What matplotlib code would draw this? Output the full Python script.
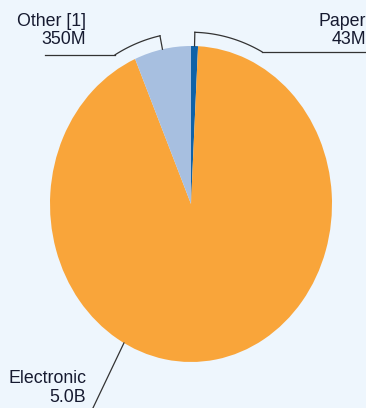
import numpy as np
import matplotlib
matplotlib.use("Agg")
import matplotlib.pyplot as plt

categories = ["Paper", "Electronic", "Other [1]"]
values_m = [43, 5000, 350]          # millions
value_labels = ["43M", "5.0B", "350M"]
colors = ["#0f62a8", "#f9a53a", "#a7bfe0"]

BG = "#eef6fd"
TXT = "#161a30"
LINE = "#333333"

W, H = 366, 408
fig = plt.figure(figsize=(W / 100, H / 100), dpi=100, facecolor=BG)
ax = fig.add_axes([0, 0, 1, 1])
ax.set_facecolor(BG)

# pie geometry in pixel space
cx, cy, rx, ry = 191, 204, 141, 158

def px(x, y):
    return ((x - cx) / rx, (cy - y) / ry)

wedges, _ = ax.pie(values_m, colors=colors, startangle=90, counterclock=False,
                   radius=1, center=(0, 0), wedgeprops=dict(linewidth=0))
ax.set_aspect("auto")
ax.set_xlim(-cx / rx, (W - cx) / rx)
ax.set_ylim(-(H - cy) / ry, cy / ry)
ax.axis("off")

def mid_angle(w):
    d = (w.theta1 + w.theta2) / 2
    d = (d + 180) % 360 - 180
    return np.deg2rad(d)

R = 1.087
def bracket(w, end_deg, x_end_px):
    a = mid_angle(w)
    ax.plot([np.cos(a), R * np.cos(a)], [np.sin(a), R * np.sin(a)], color=LINE, lw=0.9)
    arc = np.linspace(a, np.deg2rad(end_deg), 60)
    ax.plot(R * np.cos(arc), R * np.sin(arc), color=LINE, lw=0.9)
    ex, ey = R * np.cos(arc[-1]), R * np.sin(arc[-1])
    ax.plot([ex, px(x_end_px, 0)[0]], [ey, ey], color=LINE, lw=0.9)

bracket(wedges[0], 62.4, 366)
bracket(wedges[2], 119.7, 45)

# Electronic leader
a = np.deg2rad(241.6)
x0, y0 = np.cos(a), np.sin(a)
x1, y1 = px(92, 410)
ax.plot([x0, x1], [y0, y1], color=LINE, lw=0.9, clip_on=False)

font = dict(family=["Liberation Sans Narrow", "Liberation Sans", "DejaVu Sans"],
            fontsize=12.8, color=TXT, ha="right", va="top", linespacing=1.12)
ax.text(*px(366, 12.5), f"{categories[0]}\n{value_labels[0]}", **font)
ax.text(*px(86, 12.5), f"{categories[2]}\n{value_labels[2]}", **font)
ax.text(*px(86, 370), f"{categories[1]}\n{value_labels[1]}", **font)

fig.savefig("out.png", dpi=100, facecolor=BG)
